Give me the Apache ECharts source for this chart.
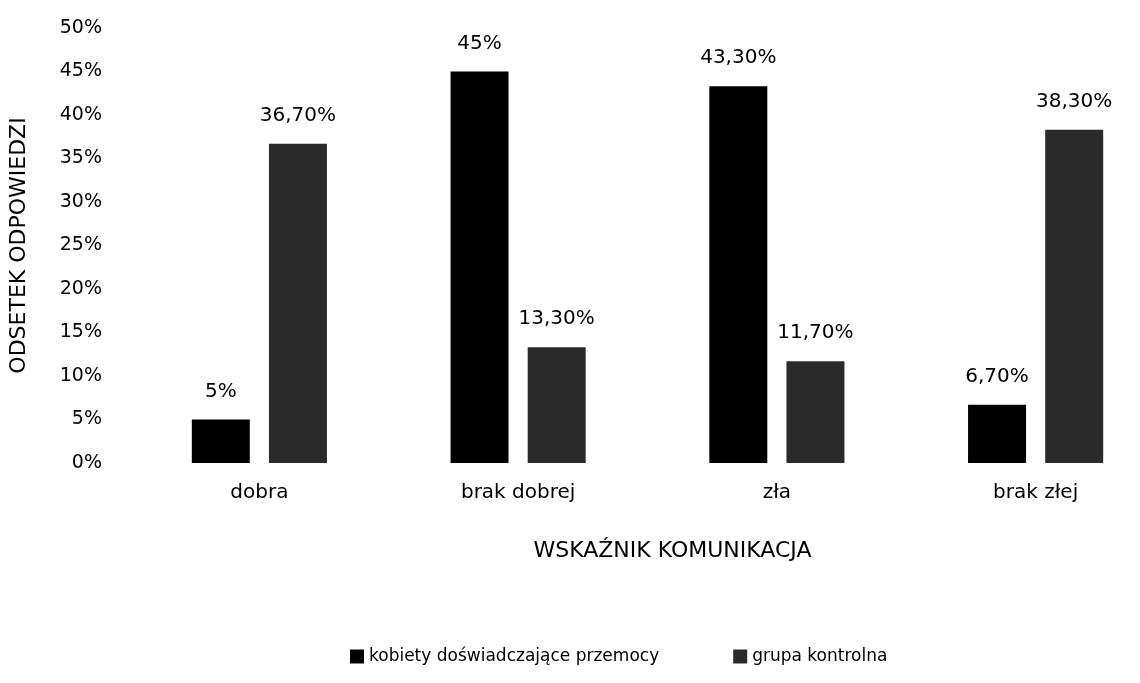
<!DOCTYPE html>
<html>
<head>
<meta charset="utf-8">
<title>Wskaźnik komunikacja</title>
<script src="https://cdn.jsdelivr.net/npm/echarts@6/dist/echarts.min.js"></script>
<style>
  html, body { margin: 0; padding: 0; background: #fff; overflow: hidden; }
  /* wykres w oryginale jest lekko ucięty z prawej, stąd szerszy kontener */
  #main { width: 1200px; height: 683px; }
</style>
</head>
<body>
<div id="main"></div>
<script>
// dane
var categories = ['dobra', 'brak dobrej', 'zła', 'brak złej'];
var seriesNames = ['kobiety doświadczające przemocy', 'grupa kontrolna'];
var kobiety = [5, 45, 43.3, 6.7];
var kontrolna = [36.7, 13.3, 11.7, 38.3];
var yTicks = [0, 5, 10, 15, 20, 25, 30, 35, 40, 45, 50];

var font = 'DejaVu Sans';

// 36.7 -> "36,70%", 5 -> "5%"
function fmtPct (v) {
    if (Math.round(v) === v) return v + '%';
    return v.toFixed(2).replace('.', ',') + '%';
}

var labelStyle = {
    show: true,
    position: 'top',
    distance: 18,
    color: '#000',
    fontFamily: font,
    fontSize: 20,
    formatter: function (p) { return fmtPct(p.value); }
};

var option = {
    backgroundColor: '#fff',
    animation: false,
    textStyle: { fontFamily: font, color: '#000' },
    grid: { left: 125, right: 35, top: 28, bottom: 220 },
    legend: {
        bottom: 13,
        left: 345,
        itemWidth: 14,
        itemHeight: 14,
        itemGap: 74,
        icon: 'rect',
        textStyle: { fontFamily: font, fontSize: 17, color: '#000' },
        data: seriesNames
    },
    xAxis: {
        type: 'category',
        data: categories,
        name: 'WSKAŹNIK KOMUNIKACJA',
        nameLocation: 'middle',
        nameGap: 77,
        nameTextStyle: { fontFamily: font, fontSize: 22, color: '#000', padding: [0, 0, 0, 50] },
        axisLine: { show: false },
        axisTick: { show: false },
        axisLabel: { fontFamily: font, fontSize: 20, color: '#000', margin: 20 }
    },
    yAxis: {
        type: 'value',
        min: yTicks[0],
        max: yTicks[yTicks.length - 1],
        interval: 5,
        name: 'ODSETEK ODPOWIEDZI',
        nameLocation: 'middle',
        nameGap: 100,
        nameRotate: 90,
        nameTextStyle: { fontFamily: font, fontSize: 22, color: '#000' },
        axisLine: { show: false },
        axisTick: { show: false },
        splitLine: { show: false },
        axisLabel: {
            fontFamily: font,
            fontSize: 19,
            color: '#000',
            margin: 28,
            formatter: function (v) { return v + '%'; }
        }
    },
    series: [
        {
            name: seriesNames[0],
            type: 'bar',
            data: kobiety,
            barWidth: 58,
            barGap: '33%',
            itemStyle: { color: '#000' },
            label: labelStyle
        },
        {
            name: seriesNames[1],
            type: 'bar',
            data: kontrolna,
            barWidth: 58,
            itemStyle: { color: '#2a2a2a' },
            label: labelStyle
        }
    ]
};

var myChart = echarts.init(document.getElementById('main'));
myChart.setOption(option);
</script>
</body>
</html>
